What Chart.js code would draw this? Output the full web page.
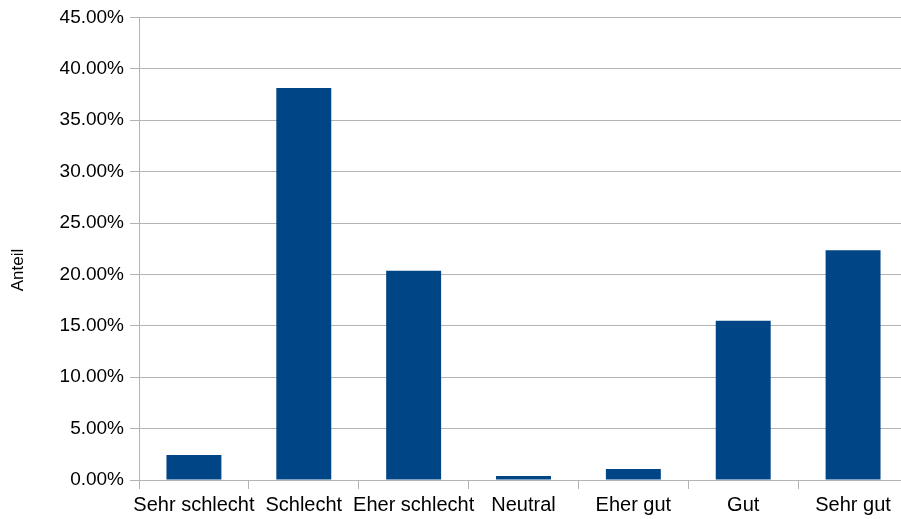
<!DOCTYPE html>
<html>
<head>
<meta charset="utf-8">
<script src="https://cdn.jsdelivr.net/npm/chart.js@4/dist/chart.umd.min.js"></script>
<style>
  html, body { margin: 0; padding: 0; background: #ffffff; overflow: hidden; }
  #wrap { width: 910px; height: 519px; }
</style>
</head>
<body>
<div id="wrap"><canvas id="c" width="910" height="519"></canvas></div>
<script>
// Answer categories and their share (in percent)
const categories = ['Sehr schlecht', 'Schlecht', 'Eher schlecht', 'Neutral', 'Eher gut', 'Gut', 'Sehr gut'];
const shares = [2.43, 38.13, 20.35, 0.39, 1.07, 15.49, 22.36];

// Value axis settings
const axisMax = 45;
const axisStep = 5;
const axisTitle = 'Anteil';

const gridColor = '#b3b3b3';
const barColor = '#004586';
const fontFamily = '"Liberation Sans", Arial, sans-serif';

new Chart(document.getElementById('c'), {
  type: 'bar',
  data: {
    labels: categories,
    datasets: [{
      data: shares,
      backgroundColor: barColor,
      borderWidth: 0,
      barPercentage: 0.5,
      categoryPercentage: 1.0
    }]
  },
  options: {
    responsive: false,
    animation: false,
    layout: { padding: { top: 6, right: 2, bottom: 0, left: 0 } },
    plugins: {
      legend: { display: false },
      tooltip: { enabled: false }
    },
    scales: {
      x: {
        offset: true,
        afterFit(scale) { scale.height = 39; },
        grid: {
          offset: true,
          drawOnChartArea: false,
          drawTicks: true,
          tickLength: 9,
          color: gridColor
        },
        border: { color: gridColor, width: 1 },
        ticks: {
          color: '#000000',
          padding: 4,
          maxRotation: 0,
          autoSkip: false,
          font: { family: fontFamily, size: 20 }
        }
      },
      y: {
        min: 0,
        max: axisMax,
        afterFit(scale) { scale.width = 139; },
        grid: {
          color: gridColor,
          drawTicks: true,
          tickLength: 9
        },
        border: { color: gridColor, width: 1 },
        ticks: {
          stepSize: axisStep,
          color: '#000000',
          padding: 6,
          font: { family: fontFamily, size: 19 },
          callback: (v) => v.toFixed(2) + '%'
        },
        title: {
          display: true,
          text: axisTitle + '         ',
          color: '#000000',
          padding: { top: 8, bottom: 4 },
          font: { family: fontFamily, size: 17 }
        }
      }
    }
  }
});
</script>
</body>
</html>
